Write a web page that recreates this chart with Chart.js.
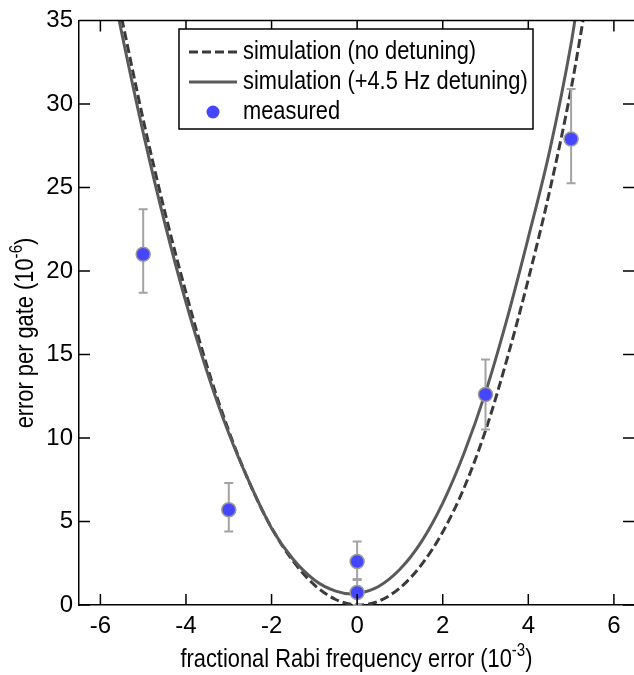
<!DOCTYPE html>
<html>
<head>
<meta charset="utf-8">
<script src="https://cdn.jsdelivr.net/npm/chart.js@4.4.0/dist/chart.umd.min.js"></script>
<style>
    html, body { margin: 0; padding: 0; background: #fff; overflow: hidden; }
    #wrap { width: 634px; height: 675px; }
</style>
</head>
<body>
<div id="wrap"><canvas id="myChart" width="634" height="675"></canvas></div>
<script>
// values
var xTicks = [-6, -4, -2, 0, 2, 4, 6];

// simulation (no detuning), dashed
var noDetuneX = [-5.5, -5.0, -4.5, -4.0, -3.5, -3.0, -2.5, -2.0, -1.5, -1.0, -0.5, 0.05, 0.5, 1.0, 1.5, 2.0, 2.5, 3.0, 3.5, 4.0, 4.5, 5.0, 5.3];
var noDetuneY = [35.1, 29.07, 23.6, 18.7, 14.24, 10.42, 7.22, 4.62, 2.64, 1.21, 0.33, 0, 0.23, 1.02, 2.4, 4.37, 7.02, 10.44, 14.7, 19.5, 24.8, 30.9, 35.3];

// simulation (+4.5 Hz detuning), solid
var detuneX = [-5.6, -5.5, -5.0, -4.5, -4.0, -3.5, -3.0, -2.5, -2.0, -1.5, -1.0, -0.5, -0.12, 0.0, 0.5, 1.0, 1.5, 2.0, 2.5, 3.0, 3.5, 4.0, 4.5, 5.0, 5.1];
var detuneY = [35.5, 34.23, 28.28, 22.91, 18.12, 13.91, 10.28, 7.23, 4.6, 2.75, 1.5, 0.83, 0.66, 0.68, 1.11, 2.14, 3.78, 6.10, 9.10, 12.73, 17.1, 22.0, 27.2, 33.6, 35.2];

// measured points with error bars
var measX = [-5, -3, 0, 0, 3, 5];
var measY = [21.0, 5.7, 2.6, 0.75, 12.6, 27.9];
var measLow = [18.7, 4.4, 1.5, 0, 10.5, 25.25];
var measHigh = [23.7, 7.3, 3.8, 1.55, 14.7, 30.9];

var FONT = '"Liberation Sans", Arial, Helvetica, sans-serif';
var NARROW = 0.84;

function pairs(xs, ys) {
    return xs.map(function (x, i) { return { x: x, y: ys[i] }; });
}

// error bars, drawn just before the measured points
var errorBars = {
    id: 'errorBars',
    beforeDatasetDraw: function (chart, args) {
        if (args.index !== 2) return;
        var ctx = chart.ctx, xs = chart.scales.x, ys = chart.scales.y;
        ctx.save();
        ctx.strokeStyle = '#a3a3a3';
        ctx.lineWidth = 2;
        for (var i = 0; i < measX.length; i++) {
            var px = xs.getPixelForValue(measX[i]);
            var top = ys.getPixelForValue(measHigh[i]);
            var bot = ys.getPixelForValue(measLow[i]);
            ctx.beginPath();
            ctx.moveTo(px, top); ctx.lineTo(px, bot);
            ctx.moveTo(px - 4.5, top); ctx.lineTo(px + 4.5, top);
            ctx.moveTo(px - 4.5, bot); ctx.lineTo(px + 4.5, bot);
            ctx.stroke();
        }
        ctx.restore();
    }
};

// narrow-looking text: squeeze horizontally around (x, y)
function narrowText(ctx, str, x, y) {
    ctx.save();
    ctx.translate(x, y);
    ctx.scale(NARROW, 1);
    ctx.fillText(str, 0, 0);
    ctx.restore();
}

function textWithSup(ctx, base, sup, tail, x, y, size) {
    var supSize = Math.round(size * 0.68);
    ctx.font = size + 'px ' + FONT;
    var w1 = ctx.measureText(base).width * NARROW;
    var w3 = ctx.measureText(tail).width * NARROW;
    ctx.font = supSize + 'px ' + FONT;
    var w2 = ctx.measureText(sup).width * NARROW;
    var start = x - (w1 + w2 + w3) / 2;
    ctx.textAlign = 'left';
    ctx.textBaseline = 'alphabetic';
    ctx.font = size + 'px ' + FONT;
    narrowText(ctx, base, start, y);
    ctx.font = supSize + 'px ' + FONT;
    narrowText(ctx, sup, start + w1, y - size * 0.42);
    ctx.font = size + 'px ' + FONT;
    narrowText(ctx, tail, start + w1 + w2, y);
}

// box frame, inward ticks, axis titles and legend
var decorations = {
    id: 'decorations',
    afterDraw: function (chart) {
        var ctx = chart.ctx, a = chart.chartArea;
        var xs = chart.scales.x, ys = chart.scales.y;
        ctx.save();
        ctx.strokeStyle = '#000';
        ctx.lineWidth = 1.5;
        ctx.beginPath();
        ctx.moveTo(a.left, a.top); ctx.lineTo(a.right + 2, a.top);
        xTicks.forEach(function (v) {
            var p = xs.getPixelForValue(v);
            ctx.moveTo(p, a.bottom); ctx.lineTo(p, a.bottom - 11);
            ctx.moveTo(p, a.top); ctx.lineTo(p, a.top + 11);
        });
        ys.ticks.forEach(function (t) {
            var p = ys.getPixelForValue(t.value);
            ctx.moveTo(a.left, p); ctx.lineTo(a.left + 11, p);
            ctx.moveTo(a.right, p); ctx.lineTo(a.right - 11, p);
        });
        ctx.stroke();

        ctx.fillStyle = '#000';
        textWithSup(ctx, 'fractional Rabi frequency error (10', '-3', ')', (a.left + a.right) / 2, 667, 26);
        ctx.save();
        ctx.translate(33, 333);
        ctx.rotate(-Math.PI / 2);
        textWithSup(ctx, 'error per gate (10', '-6', ')', 0, 0, 26);
        ctx.restore();

        // legend
        ctx.fillStyle = '#fff';
        ctx.fillRect(179, 29, 354, 100);
        ctx.lineWidth = 1.5;
        ctx.strokeStyle = '#000';
        ctx.strokeRect(179, 29, 354, 100);
        var rows = [52, 82, 112];
        ctx.lineWidth = 3;
        ctx.strokeStyle = '#3a3a3a';
        ctx.setLineDash([9, 4]);
        ctx.beginPath(); ctx.moveTo(189, rows[0]); ctx.lineTo(237, rows[0]); ctx.stroke();
        ctx.setLineDash([]);
        ctx.strokeStyle = '#5a5a5a';
        ctx.beginPath(); ctx.moveTo(189, rows[1]); ctx.lineTo(237, rows[1]); ctx.stroke();
        ctx.fillStyle = '#4646ff';
        ctx.beginPath(); ctx.arc(213, rows[2], 6.5, 0, Math.PI * 2); ctx.fill();
        ctx.fillStyle = '#000';
        ctx.font = '26px ' + FONT;
        ctx.textAlign = 'left';
        ctx.textBaseline = 'middle';
        narrowText(ctx, 'simulation (no detuning)', 243, rows[0]);
        narrowText(ctx, 'simulation (+4.5 Hz detuning)', 243, rows[1]);
        narrowText(ctx, 'measured', 243, rows[2]);
        ctx.restore();
    }
};

var ctx = document.getElementById('myChart').getContext('2d');
var myChart = new Chart(ctx, {
    type: 'line',
    data: {
        datasets: [{
            label: 'simulation (no detuning)',
            data: pairs(noDetuneX, noDetuneY),
            borderColor: '#3a3a3a',
            borderWidth: 3,
            borderDash: [9, 4],
            pointRadius: 0,
            cubicInterpolationMode: 'monotone',
            clip: 0,
            order: 2
        }, {
            label: 'simulation (+4.5 Hz detuning)',
            data: pairs(detuneX, detuneY),
            borderColor: '#5a5a5a',
            borderWidth: 3,
            pointRadius: 0,
            cubicInterpolationMode: 'monotone',
            clip: 0,
            order: 1
        }, {
            label: 'measured',
            data: pairs(measX, measY),
            showLine: false,
            pointRadius: 7,
            pointBackgroundColor: '#4646ff',
            pointBorderColor: '#9a9a9a',
            pointBorderWidth: 1.5,
            order: 0
        }]
    },
    options: {
        responsive: false,
        animation: false,
        events: [],
        layout: { autoPadding: false, padding: { top: 20, right: 0, left: 0, bottom: 0 } },
        plugins: { legend: { display: false }, tooltip: { enabled: false } },
        scales: {
            x: {
                type: 'linear',
                min: -6.5,
                max: 6.47,
                afterBuildTicks: function (scale) {
                    scale.ticks = xTicks.map(function (v) { return { value: v }; });
                },
                afterFit: function (scale) {
                    scale.height = 70;
                },
                grid: { display: false, drawTicks: false },
                border: { display: true, color: '#000', width: 1.5 },
                ticks: { color: '#000', padding: 7, maxRotation: 0, font: { family: FONT, size: 24 } }
            },
            y: {
                min: 0,
                max: 35,
                afterFit: function (scale) {
                    scale.width = 79;
                },
                grid: { display: false, drawTicks: false },
                border: { display: true, color: '#000', width: 1.5 },
                ticks: { color: '#000', stepSize: 5, padding: 6, font: { family: FONT, size: 24 } }
            }
        }
    },
    plugins: [errorBars, decorations]
});
</script>
</body>
</html>
